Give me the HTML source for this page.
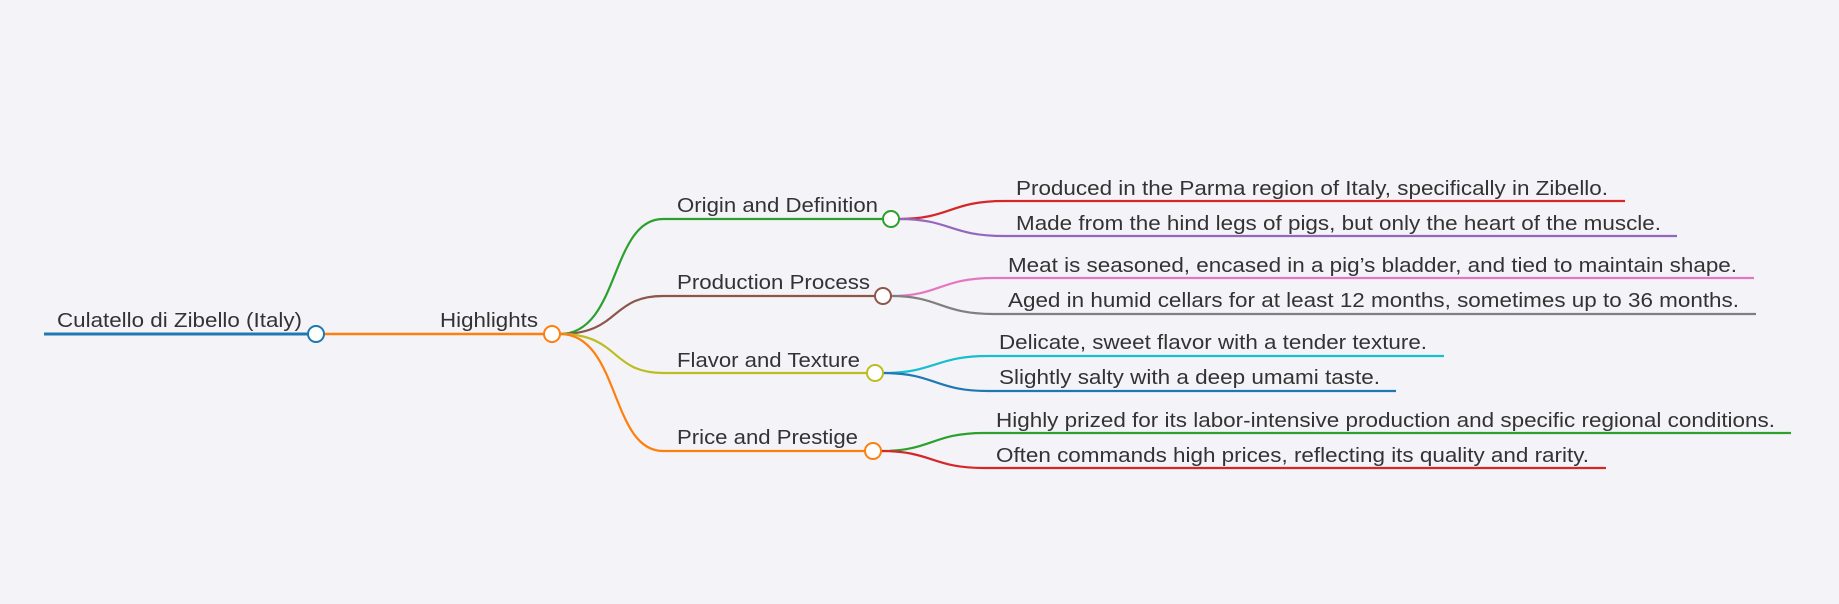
<!DOCTYPE html>
<html><head><meta charset="utf-8"><style>
html,body{margin:0;padding:0;background:#f4f4f8;}
svg{display:block;}
text{font-family:"Liberation Sans",sans-serif;font-size:20.5px;fill:#333;}
</style></head><body>
<svg width="1839" height="604" viewBox="0 0 1839 604" xmlns="http://www.w3.org/2000/svg">
<rect width="1839" height="604" fill="#f4f4f8"/>
<g fill="none" stroke-width="2.2">
<line x1="44" y1="334" x2="308" y2="334" stroke="#1f77b4" stroke-width="3"/>
<line x1="324" y1="334" x2="544" y2="334" stroke="#ff7f0e" stroke-width="2.5"/>
<path d="M560 334 C620 334 610 219 663 219 L883 219" stroke="#2ca02c"/>
<path d="M560 334 C620 334 610 296 663 296 L875 296" stroke="#8c564b"/>
<path d="M560 334 C620 334 610 373 663 373 L867 373" stroke="#bcbd22"/>
<path d="M560 334 C620 334 610 451 663 451 L865 451" stroke="#ff7f0e"/>
<path d="M899 219 C950 219 950 201 1004 201 L1625 201" stroke="#d62728"/>
<path d="M899 219 C950 219 950 236 1004 236 L1677 236" stroke="#9467bd"/>
<path d="M891 296 C940 296 940 278 994 278 L1754 278" stroke="#e377c2"/>
<path d="M891 296 C940 296 940 314 994 314 L1756 314" stroke="#7f7f7f"/>
<path d="M883 373 C935 373 935 356 988 356 L1444 356" stroke="#17becf"/>
<path d="M883 373 C935 373 935 391 988 391 L1396 391" stroke="#1f77b4"/>
<path d="M881 451 C932 451 932 433 984 433 L1791 433" stroke="#2ca02c"/>
<path d="M881 451 C932 451 932 468 984 468 L1606 468" stroke="#d62728"/>
</g>
<g fill="#fff" stroke-width="2">
<circle cx="316" cy="334" r="8" stroke="#1f77b4"/>
<circle cx="552" cy="334" r="8" stroke="#ff7f0e"/>
<circle cx="891" cy="219" r="8" stroke="#2ca02c"/>
<circle cx="883" cy="296" r="8" stroke="#8c564b"/>
<circle cx="875" cy="373" r="8" stroke="#bcbd22"/>
<circle cx="873" cy="451" r="8" stroke="#ff7f0e"/>
</g>
<text x="57" y="327" textLength="245" lengthAdjust="spacingAndGlyphs">Culatello di Zibello (Italy)</text>
<text x="440" y="327" textLength="98" lengthAdjust="spacingAndGlyphs">Highlights</text>
<text x="677" y="212" textLength="201" lengthAdjust="spacingAndGlyphs">Origin and Definition</text>
<text x="677" y="289" textLength="193" lengthAdjust="spacingAndGlyphs">Production Process</text>
<text x="677" y="367" textLength="183" lengthAdjust="spacingAndGlyphs">Flavor and Texture</text>
<text x="677" y="444" textLength="181" lengthAdjust="spacingAndGlyphs">Price and Prestige</text>
<text x="1016" y="195" textLength="592" lengthAdjust="spacingAndGlyphs">Produced in the Parma region of Italy, specifically in Zibello.</text>
<text x="1016" y="230" textLength="645" lengthAdjust="spacingAndGlyphs">Made from the hind legs of pigs, but only the heart of the muscle.</text>
<text x="1008" y="272" textLength="729" lengthAdjust="spacingAndGlyphs">Meat is seasoned, encased in a pig’s bladder, and tied to maintain shape.</text>
<text x="1008" y="307" textLength="731" lengthAdjust="spacingAndGlyphs">Aged in humid cellars for at least 12 months, sometimes up to 36 months.</text>
<text x="999" y="349" textLength="428" lengthAdjust="spacingAndGlyphs">Delicate, sweet flavor with a tender texture.</text>
<text x="999" y="384" textLength="381" lengthAdjust="spacingAndGlyphs">Slightly salty with a deep umami taste.</text>
<text x="996" y="427" textLength="779" lengthAdjust="spacingAndGlyphs">Highly prized for its labor-intensive production and specific regional conditions.</text>
<text x="996" y="462" textLength="593" lengthAdjust="spacingAndGlyphs">Often commands high prices, reflecting its quality and rarity.</text>
</svg>
</body></html>
